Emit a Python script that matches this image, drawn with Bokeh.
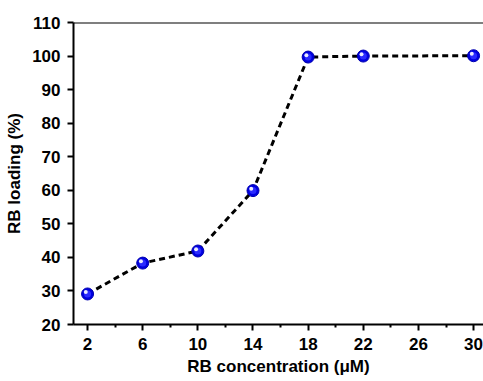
from bokeh.plotting import figure
from bokeh.models import Span, FixedTicker, Range1d, ColumnDataSource
from bokeh.transform import dodge
from bokeh.embed import file_html
from bokeh.resources import INLINE

conc = [2, 6, 10, 14, 18, 22, 30]
loading = [29.1, 38.3, 41.9, 59.9, 99.7, 100.0, 100.1]
x_ticks = [2, 6, 10, 14, 18, 22, 26, 30]
x_minor = [4, 8, 12, 16, 20, 24, 28]
y_ticks = [20, 30, 40, 50, 60, 70, 80, 90, 100, 110]
x_title = "RB concentration (\u03bcM)"
y_title = "RB loading (%)"

src = ColumnDataSource(dict(x=conc, y=loading))

p = figure(width=483, height=381, output_backend="svg", toolbar_location=None,
           x_range=Range1d(0.98, 30.72), y_range=Range1d(20, 110),
           min_border_left=73, min_border_right=0, min_border_top=22, min_border_bottom=57)
p.outline_line_color = None
p.grid.visible = False
p.background_fill_color = "white"
p.border_fill_color = "white"

p.add_layout(Span(location=110, dimension="width", line_color="black", line_width=2))

p.line("x", "y", source=src, line_color="black", line_width=3, line_dash="6 4")
p.scatter("x", "y", source=src, size=12, fill_color="#0000e0", line_color="#0000b0", line_width=1)
p.scatter("x", "y", source=src, size=7, fill_color="#2a2aff", line_color=None)
p.scatter(dodge("x", -0.13, range=p.x_range), dodge("y", 0.55, range=p.y_range), source=src,
          size=4, fill_color="white", line_color=None, fill_alpha=0.9)

font = "Liberation Sans"
for ax in (p.xaxis[0], p.yaxis[0]):
    ax.axis_line_width = 2
    ax.axis_line_color = "black"
    ax.major_tick_line_width = 2
    ax.minor_tick_line_width = 2
    ax.major_tick_out = 6
    ax.major_tick_in = 0
    ax.major_label_text_font = font
    ax.major_label_text_font_style = "bold"
    ax.major_label_text_font_size = "17px"
    ax.major_label_text_color = "black"
    ax.axis_label_text_font = font
    ax.axis_label_text_font_style = "bold"
    ax.axis_label_text_font_size = "17px"
    ax.axis_label_text_color = "black"

p.xaxis[0].ticker = FixedTicker(ticks=x_ticks, minor_ticks=x_minor)
p.xaxis[0].minor_tick_out = 3
p.xaxis[0].minor_tick_in = 0
p.xaxis[0].major_label_standoff = 7
p.xaxis[0].axis_label = x_title
p.xaxis[0].axis_label_standoff = 4

p.yaxis[0].ticker = FixedTicker(ticks=y_ticks, minor_ticks=[])
p.yaxis[0].major_label_standoff = 7
p.yaxis[0].axis_label = y_title
p.yaxis[0].axis_label_standoff = 5

open("out.html", "w").write(file_html(p, INLINE))
